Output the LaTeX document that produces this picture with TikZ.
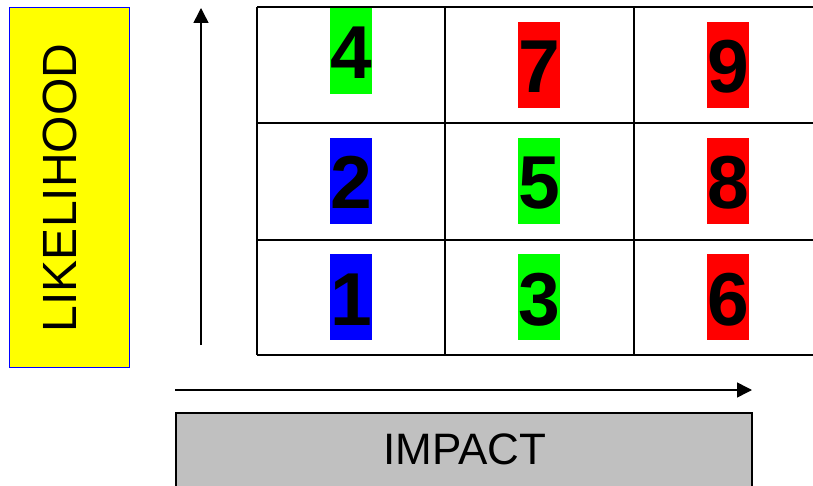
\documentclass[tikz,border=0pt]{standalone}
\usepackage{fontspec}
\setmainfont{Liberation Sans}
\usetikzlibrary{arrows.meta}
\definecolor{lowrisk}{HTML}{0000FF}
\definecolor{midrisk}{HTML}{00FF00}
\definecolor{highrisk}{HTML}{FF0000}
\definecolor{likeyellow}{HTML}{FFFF00}
\definecolor{impactgray}{HTML}{C0C0C0}

\begin{document}
\begin{tikzpicture}[x=1pt,y=-1pt,
  score/.style={font=\fontsize{75}{75}\selectfont\bfseries,inner sep=0pt,minimum width=42pt,text height=71pt,text depth=15pt,anchor=base},
  axis/.style={line width=1.5pt,-{Triangle[length=15pt,width=15pt]}}]
  \useasboundingbox (0,0) rectangle (813,486);

  % likelihood label
  \node[draw=lowrisk,line width=1.2pt,fill=likeyellow,minimum width=120pt,minimum height=360pt,inner sep=0pt] (likebox) at (69.5,187.5) {};
  \node[rotate=90,anchor=base,font=\fontsize{48}{48}\selectfont] (liketext) at (76,188) {LIKELIHOOD};

  % grid
  \draw[line width=2.5pt] (257,7) -- (813,7);
  \draw[line width=2.5pt] (257,123) -- (813,123);
  \draw[line width=2.5pt] (257,240) -- (813,240);
  \draw[line width=2.5pt] (257,355) -- (813,355);
  \foreach \gx in {257,445,634}
    \draw[line width=2.5pt] (\gx,7) -- (\gx,355);

  % scores
  \foreach \num/\col/\cx/\by in {4/midrisk/351/79,7/highrisk/539/93,9/highrisk/728/93,
                                 2/lowrisk/351/209,5/midrisk/539/209,8/highrisk/728/209,
                                 1/lowrisk/351/325,3/midrisk/539/325,6/highrisk/728/325}
    \node[score,fill=\col] (cell\num) at (\cx,\by) {\num};

  % axes
  \coordinate (lhstart) at (201,345);
  \coordinate (lhend) at (201,8);
  \draw[axis] (lhstart) -- (lhend);
  \coordinate (imstart) at (175,390);
  \coordinate (imend) at (752,390);
  \draw[axis] (imstart) -- (imend);

  % impact label
  \fill[impactgray] (176,413) rectangle (752,486);
  \draw[line width=1.5pt] (176,486) -- (176,413) -- (752,413) -- (752,486);
  \node[anchor=base,font=\fontsize{44}{44}\selectfont] (imptext) at (465,464) {IMPACT};
\end{tikzpicture}
\end{document}
